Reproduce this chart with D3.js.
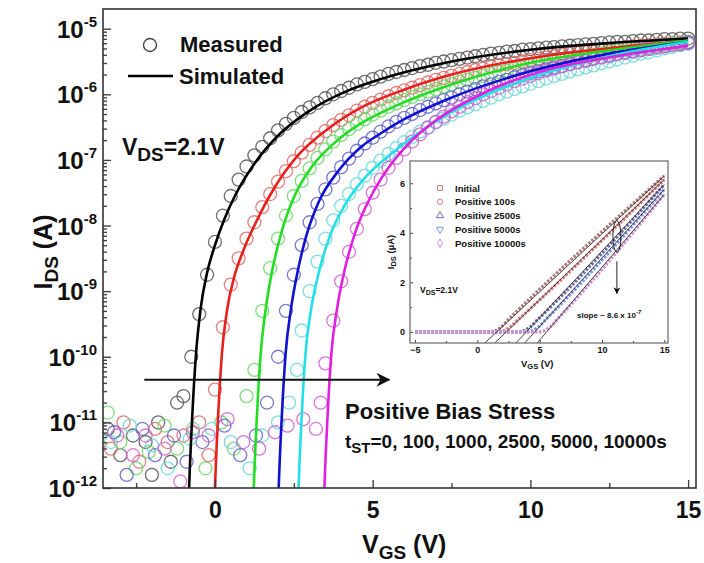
<!DOCTYPE html>
<html>
<head>
<meta charset="utf-8">
<script src="https://cdn.jsdelivr.net/npm/d3@7"></script>
<style>
body { margin: 0; background: #fff; }
svg text { font-family: "Liberation Sans", Arial, sans-serif; font-weight: bold; fill: #111; }
</style>
</head>
<body>
<div id="chart"></div>
<script>
// ---- Data ----
// stress times, one curve each
const stressTimes = ['0 s', '100 s', '1000 s', '2500 s', '5000 s', '10000 s'];
const lineColors = ['#000000', '#e8201c', '#22dd22', '#1010d0', '#22e0e8', '#e020e0'];
const circleColors = ['#555555', '#e06a6a', '#6ad86a', '#6060c8', '#6ad8d8', '#d060d0'];

// simulated curves: [VGS (V), log10 IDS (A)]
const simInitial = [[-0.82, -12], [-0.72, -10.9], [-0.6, -9.95], [-0.45, -9.25], [-0.25, -8.72], [0, -8.3], [0.3, -7.9],
  [0.63, -7.55], [1.26, -7.05], [2.02, -6.62], [2.97, -6.26], [4.23, -5.94], [5.17, -5.78], [7.5, -5.5], [10, -5.32], [12.5, -5.22], [15, -5.15]];
const sim100 = [[0, -12], [0.1, -10.9], [0.22, -9.95], [0.38, -9.3], [0.6, -8.8], [0.9, -8.38], [1.3, -7.95], [1.89, -7.42],
  [2.65, -6.92], [3.6, -6.52], [4.64, -6.2], [6, -5.93], [7.5, -5.7], [10, -5.45], [12.5, -5.3], [15, -5.19]];
const sim1000 = [[1.23, -12], [1.33, -10.9], [1.45, -9.95], [1.6, -9.3], [1.8, -8.72], [2.11, -8.1], [2.52, -7.55], [3.06, -7.11],
  [3.79, -6.74], [4.64, -6.44], [5.27, -6.28], [6, -6.12], [7.5, -5.85], [10, -5.52], [12.5, -5.33], [15, -5.18]];
const sim2500 = [[2.02, -12], [2.12, -10.9], [2.24, -9.95], [2.4, -9.3], [2.6, -8.75], [2.87, -8.2], [3.28, -7.65], [3.91, -7.17],
  [4.64, -6.8], [5.27, -6.59], [6, -6.38], [7.5, -6.05], [10, -5.65], [12.5, -5.38], [15, -5.2]];
const sim5000 = [[2.65, -12], [2.75, -10.9], [2.87, -9.95], [3.04, -9.3], [3.3, -8.7], [3.65, -8.15], [4.1, -7.7], [4.7, -7.3],
  [5.4, -6.98], [6, -6.75], [7.5, -6.27], [10, -5.75], [12.5, -5.42], [15, -5.2]];
const sim10000 = [[3.47, -12], [3.57, -10.9], [3.69, -9.95], [3.86, -9.3], [4.1, -8.7], [4.45, -8.1], [4.95, -7.55], [5.5, -7.12],
  [6.2, -6.72], [6.94, -6.42], [8.52, -5.98], [10.6, -5.62], [12.7, -5.42], [15, -5.26]];

// measured sweeps: start VGS, 0.25 V step, log10 IDS
const sweepStep = 0.25;
const measStart = [-1.0, 0, 1.25, 2.0, 2.75, 3.5];
const measInitial = [-10.6, -10.0, -9.35, -8.75, -8.25, -7.85, -7.55, -7.3, -7.1, -6.93,
  -6.8, -6.67, -6.55, -6.45, -6.36, -6.27, -6.2, -6.13, -6.06, -6.0,
  -5.95, -5.9, -5.85, -5.81, -5.77, -5.73, -5.69, -5.66, -5.63, -5.6,
  -5.57, -5.55, -5.52, -5.5, -5.48, -5.46, -5.44, -5.42, -5.4, -5.38,
  -5.37, -5.35, -5.34, -5.32, -5.31, -5.3, -5.29, -5.28, -5.27, -5.26,
  -5.25, -5.24, -5.23, -5.22, -5.21, -5.2, -5.2, -5.19, -5.18, -5.18,
  -5.17, -5.16, -5.16, -5.15, -5.15];
const meas100 = [-10.5, -9.55, -8.9, -8.5, -8.2, -7.95, -7.72, -7.52, -7.33, -7.17,
  -7.02, -6.89, -6.77, -6.66, -6.56, -6.47, -6.39, -6.32, -6.25, -6.19,
  -6.13, -6.08, -6.03, -5.98, -5.94, -5.9, -5.86, -5.82, -5.78, -5.75,
  -5.72, -5.69, -5.66, -5.63, -5.61, -5.58, -5.56, -5.54, -5.52, -5.5,
  -5.48, -5.46, -5.44, -5.42, -5.4, -5.38, -5.37, -5.35, -5.34, -5.32,
  -5.31, -5.3, -5.28, -5.27, -5.26, -5.25, -5.24, -5.23, -5.22, -5.21, -5.2];
const meas1000 = [-10.2, -9.3, -8.65, -8.2, -7.85, -7.55, -7.32, -7.13, -6.97, -6.84,
  -6.72, -6.62, -6.53, -6.45, -6.38, -6.31, -6.25, -6.19, -6.14, -6.09,
  -6.04, -6.0, -5.96, -5.92, -5.88, -5.85, -5.81, -5.78, -5.75, -5.72,
  -5.69, -5.66, -5.64, -5.61, -5.59, -5.56, -5.54, -5.52, -5.5, -5.48,
  -5.46, -5.44, -5.42, -5.4, -5.38, -5.36, -5.34, -5.33, -5.31, -5.29,
  -5.28, -5.26, -5.25, -5.23, -5.22, -5.2];
const meas2500 = [-10.0, -9.3, -8.75, -8.3, -7.95, -7.67, -7.45, -7.27, -7.11, -6.98,
  -6.86, -6.75, -6.66, -6.57, -6.49, -6.42, -6.36, -6.3, -6.24, -6.19,
  -6.14, -6.09, -6.05, -6.0, -5.96, -5.92, -5.88, -5.85, -5.81, -5.78,
  -5.74, -5.71, -5.68, -5.65, -5.62, -5.59, -5.57, -5.54, -5.51, -5.49,
  -5.46, -5.44, -5.42, -5.39, -5.37, -5.35, -5.33, -5.31, -5.29, -5.27,
  -5.25, -5.23, -5.21];
const meas5000 = [-9.6, -9.0, -8.55, -8.2, -7.92, -7.7, -7.52, -7.37, -7.24, -7.12,
  -7.01, -6.91, -6.82, -6.73, -6.65, -6.57, -6.5, -6.43, -6.37, -6.31,
  -6.25, -6.2, -6.15, -6.1, -6.05, -6.0, -5.96, -5.92, -5.88, -5.84,
  -5.8, -5.76, -5.72, -5.69, -5.65, -5.62, -5.59, -5.56, -5.53, -5.5,
  -5.47, -5.44, -5.41, -5.38, -5.36, -5.33, -5.3, -5.28, -5.25, -5.23];
const meas10000 = [-10.1, -9.45, -8.85, -8.4, -8.05, -7.75, -7.5, -7.3, -7.12, -6.97,
  -6.84, -6.72, -6.61, -6.51, -6.42, -6.34, -6.26, -6.19, -6.12, -6.06,
  -6.0, -5.95, -5.9, -5.85, -5.8, -5.76, -5.72, -5.68, -5.64, -5.61,
  -5.57, -5.54, -5.51, -5.48, -5.45, -5.43, -5.4, -5.38, -5.36, -5.34,
  -5.32, -5.3, -5.28, -5.27, -5.25, -5.24, -5.22];

// sub-threshold noise floor: [VGS, log10 IDS, curve index]
const noisePoints = [
  [-3.4, -11.1, 0], [-3.0, -11.5, 0], [-2.6, -11.2, 0], [-2.2, -11.3, 0], [-1.8, -11.0, 0], [-1.4, -11.6, 0], [-1.2, -10.7, 0], [-2.0, -11.8, 0],
  [-3.3, -11.4, 1], [-2.9, -11.0, 1], [-2.4, -11.6, 1], [-1.9, -11.1, 1], [-1.5, -11.3, 1], [-1.0, -11.2, 1], [-0.5, -11.0, 1], [-0.2, -11.5, 1],
  [-3.4, -10.85, 2], [-3.0, -11.3, 2], [-2.5, -11.7, 2], [-2.1, -11.45, 2], [-1.6, -11.05, 2], [-1.2, -11.4, 2], [-0.7, -11.1, 2], [-0.3, -11.7, 2],
  [0.2, -11.0, 2], [0.6, -11.4, 2], [1.0, -10.6, 2],
  [-3.2, -11.15, 3], [-2.8, -11.8, 3], [-2.3, -11.1, 3], [-1.9, -11.5, 3], [-1.3, -11.2, 3], [-0.9, -11.6, 3], [-0.4, -11.3, 3], [0.3, -11.05, 3],
  [0.8, -11.5, 3], [1.3, -11.2, 3], [1.65, -10.7, 3],
  [-3.3, -11.3, 4], [-2.7, -11.05, 4], [-2.0, -11.35, 4], [-1.5, -11.7, 4], [-0.8, -11.25, 4], [-0.1, -11.1, 4], [0.5, -11.3, 4], [1.1, -11.7, 4],
  [1.5, -11.2, 4], [2.0, -11.0, 4], [2.35, -10.7, 4], [2.6, -10.2, 4],
  [-3.1, -11.2, 5], [-2.6, -11.5, 5], [-2.2, -11.2, 5], [-1.6, -11.4, 5], [-1.1, -11.9, 5], [-0.7, -11.15, 5], [-0.2, -11.2, 5], [0.4, -10.95, 5],
  [0.9, -11.3, 5], [1.4, -11.4, 5], [1.9, -11.15, 5], [2.3, -11.05, 5], [2.8, -10.95, 5], [3.2, -11.1, 5], [3.35, -10.7, 5]
];

const simCurves = [simInitial, sim100, sim1000, sim2500, sim5000, sim10000];
const measCurves = [measInitial, meas100, meas1000, meas2500, meas5000, meas10000];

// inset: linear IDS (uA) vs VGS
const insetNames = ['Initial', 'Positive 100s', 'Positive 2500s', 'Positive 5000s', 'Positive 10000s'];
const insetColors = ['#b07a7a', '#e07a7a', '#6a6aa8', '#7a96e0', '#d090d0'];
const insetSymbols = [d3.symbolSquare, d3.symbolCircle, d3.symbolTriangle, d3.symbolTriangle, d3.symbolDiamond];
const insetMeasured = [
  [[-5, 0], [1.0, 0], [1.8, 0.15], [2.5, 0.5], [15, 6.3]],
  [[-5, 0], [1.8, 0], [2.6, 0.18], [3.3, 0.5], [15, 6.15]],
  [[-5, 0], [3.4, 0], [4.2, 0.18], [4.9, 0.52], [15, 5.95]],
  [[-5, 0], [4.0, 0], [4.9, 0.2], [5.6, 0.55], [15, 5.75]],
  [[-5, 0], [5.0, 0], [5.8, 0.18], [6.5, 0.55], [15, 5.55]]
];
const insetFits = [
  [[0.6, -0.45], [15, 6.3]],
  [[1.4, -0.45], [15, 6.15]],
  [[3.1, -0.45], [15, 5.95]],
  [[3.8, -0.45], [15, 5.75]],
  [[4.8, -0.45], [15, 5.55]]
];

// ---- Layout ----
const W = 704, H = 563;
const plot = { left: 103, top: 9, right: 696, bottom: 488 };

const svg = d3.select('#chart').append('svg')
  .attr('width', W).attr('height', H);

const x = d3.scaleLinear().domain([-3.55, 15.25]).range([plot.left, plot.right]);
const y = d3.scaleLog().domain([1e-12, Math.pow(10, -4.7)]).range([plot.bottom, plot.top]);

svg.append('clipPath').attr('id', 'clip')
  .append('rect')
  .attr('x', plot.left).attr('y', plot.top)
  .attr('width', plot.right - plot.left).attr('height', plot.bottom - plot.top);

const g = svg.append('g').attr('clip-path', 'url(#clip)');

// measured circles
const circles = [];
measCurves.forEach((vals, i) => {
  vals.forEach((v, k) => circles.push({ v: measStart[i] + k * sweepStep, logI: v, s: i }));
});
noisePoints.forEach(p => circles.push({ v: p[0], logI: p[1], s: p[2] }));

g.selectAll('circle.meas')
  .data(circles)
  .join('circle')
  .attr('class', 'meas')
  .attr('cx', d => x(d.v))
  .attr('cy', d => y(Math.pow(10, d.logI)))
  .attr('r', 6.5)
  .attr('fill', 'none')
  .attr('stroke', d => circleColors[d.s])
  .attr('stroke-width', 1.3)
  .attr('opacity', 0.85);

// simulated lines
const line = d3.line()
  .x(d => x(d[0]))
  .y(d => y(Math.pow(10, d[1])))
  .curve(d3.curveMonotoneX);

g.selectAll('path.sim')
  .data(simCurves)
  .join('path')
  .attr('class', 'sim')
  .attr('d', d => line([[d[0][0] - 0.02, -12.3], ...d]))
  .attr('fill', 'none')
  .attr('stroke', (d, i) => lineColors[i])
  .attr('stroke-width', 2.6);

// ---- Axes ----
const xAxisMajor = d3.axisBottom(x).tickValues([0, 5, 10, 15]).tickSize(-8).tickPadding(14);
const xAxisMinor = d3.axisBottom(x).tickValues([-2.5, 2.5, 7.5, 12.5]).tickSize(-5).tickFormat('');

const gx = svg.append('g').attr('transform', `translate(0,${plot.bottom})`).call(xAxisMajor);
svg.append('g').attr('transform', `translate(0,${plot.bottom})`).call(xAxisMinor);
gx.selectAll('text').style('font-size', '23px').attr('fill', '#111');

const decades = [-12, -11, -10, -9, -8, -7, -6, -5];
const yAxisMajor = d3.axisLeft(y).tickValues(decades.map(d => Math.pow(10, d))).tickSize(-8).tickFormat('');
const yMinorVals = y.ticks().filter(t => Math.abs(Math.log10(t) - Math.round(Math.log10(t))) > 1e-6);
const yAxisMinor = d3.axisLeft(y).tickValues(yMinorVals).tickSize(-4).tickFormat('');
svg.append('g').attr('transform', `translate(${plot.left},0)`).call(yAxisMajor);
svg.append('g').attr('transform', `translate(${plot.left},0)`).call(yAxisMinor);

svg.selectAll('.domain').remove();
svg.selectAll('.tick line').attr('stroke', '#222').attr('stroke-width', 1.4);

// y tick labels 10^n
const yLab = svg.append('g').selectAll('text')
  .data(decades)
  .join('text')
  .attr('x', 97)
  .attr('y', d => y(Math.pow(10, d)) + 9)
  .attr('text-anchor', 'end');
yLab.append('tspan').style('font-size', '24px').text('10');
yLab.append('tspan').style('font-size', '15px').attr('dy', -11).text(d => d);

// frame
svg.append('rect')
  .attr('x', plot.left).attr('y', plot.top)
  .attr('width', plot.right - plot.left).attr('height', plot.bottom - plot.top)
  .attr('fill', 'none').attr('stroke', '#333').attr('stroke-width', 1.6);

// axis titles
const xt = svg.append('text').attr('x', 362).attr('y', 553);
xt.append('tspan').style('font-size', '25px').text('V');
xt.append('tspan').style('font-size', '19px').attr('dy', 6).text('GS');
xt.append('tspan').style('font-size', '25px').attr('dy', -6).text(' (V)');

const yt = svg.append('text').attr('transform', 'translate(52,252) rotate(-90)').attr('text-anchor', 'middle');
yt.append('tspan').style('font-size', '25px').text('I');
yt.append('tspan').style('font-size', '19px').attr('dy', 6).text('DS');
yt.append('tspan').style('font-size', '25px').attr('dy', -6).text(' (A)');

// legend
svg.append('circle').attr('cx', 150).attr('cy', 45).attr('r', 6.5)
  .attr('fill', 'none').attr('stroke', '#444').attr('stroke-width', 1.4);
svg.append('text').attr('x', 180).attr('y', 52).style('font-size', '22px').text('Measured');
svg.append('line').attr('x1', 128).attr('x2', 173).attr('y1', 76).attr('y2', 76)
  .attr('stroke', '#000').attr('stroke-width', 2.6);
svg.append('text').attr('x', 179).attr('y', 84).style('font-size', '22px').text('Simulated');

// VDS label
const vds = svg.append('text').attr('x', 122).attr('y', 155);
vds.append('tspan').style('font-size', '23px').text('V');
vds.append('tspan').style('font-size', '19px').attr('dy', 6).text('DS');
vds.append('tspan').style('font-size', '23px').attr('dy', -6).text('=2.1V');

// stress arrow
svg.append('defs').append('marker')
  .attr('id', 'arrowHead').attr('viewBox', '0 0 10 10').attr('refX', 9).attr('refY', 5)
  .attr('markerWidth', 7).attr('markerHeight', 7).attr('orient', 'auto')
  .append('path').attr('d', 'M0,0 L10,5 L0,10 L3,5 Z').attr('fill', '#111');
svg.append('line')
  .attr('x1', x(-2.24)).attr('x2', x(5.52))
  .attr('y1', y(Math.pow(10, -10.35))).attr('y2', y(Math.pow(10, -10.35)))
  .attr('stroke', '#111').attr('stroke-width', 2)
  .attr('marker-end', 'url(#arrowHead)');

svg.append('text').attr('x', 345).attr('y', 419).style('font-size', '22px').text('Positive Bias Stress');
const tst = svg.append('text').attr('x', 345).attr('y', 448);
tst.append('tspan').style('font-size', '19px').text('t');
tst.append('tspan').style('font-size', '15px').attr('dy', 5).text('ST');
tst.append('tspan').style('font-size', '19px').attr('dy', -5).text('=0, 100, 1000, 2500, 5000, 10000s');

// ---- Inset ----
const inset = { left: 410, top: 161, right: 668, bottom: 343 };
const ix = d3.scaleLinear().domain([-5.4, 15.3]).range([inset.left, inset.right]);
const iy = d3.scaleLinear().domain([-0.45, 6.9]).range([inset.bottom, inset.top]);

svg.append('rect')
  .attr('x', inset.left).attr('y', inset.top)
  .attr('width', inset.right - inset.left).attr('height', inset.bottom - inset.top)
  .attr('fill', '#fff');

svg.append('clipPath').attr('id', 'iclip')
  .append('rect')
  .attr('x', inset.left).attr('y', inset.top)
  .attr('width', inset.right - inset.left).attr('height', inset.bottom - inset.top);
const ig = svg.append('g').attr('clip-path', 'url(#iclip)');

const iline = d3.line().x(d => ix(d[0])).y(d => iy(d[1])).curve(d3.curveMonotoneX);

ig.selectAll('path.imeas')
  .data(insetMeasured)
  .join('path')
  .attr('d', iline)
  .attr('fill', 'none')
  .attr('stroke', (d, i) => insetColors[i])
  .attr('stroke-width', 3.2)
  .attr('stroke-dasharray', '2.5,1.5');

ig.selectAll('path.ifit')
  .data(insetFits)
  .join('path')
  .attr('d', d3.line().x(d => ix(d[0])).y(d => iy(d[1])))
  .attr('fill', 'none')
  .attr('stroke', '#333')
  .attr('stroke-width', 0.9);

const ixAxis = d3.axisBottom(ix).tickValues([-5, 0, 5, 10, 15]).tickSize(-3).tickPadding(4);
const iyAxis = d3.axisLeft(iy).tickValues([0, 2, 4, 6]).tickSize(-3).tickPadding(5);
const igx = svg.append('g').attr('transform', `translate(0,${inset.bottom})`).call(ixAxis);
const igy = svg.append('g').attr('transform', `translate(${inset.left},0)`).call(iyAxis);
svg.append('g').attr('transform', `translate(0,${inset.bottom})`)
  .call(d3.axisBottom(ix).tickValues([-2.5, 2.5, 7.5, 12.5]).tickSize(-2).tickFormat(''));
svg.append('g').attr('transform', `translate(${inset.left},0)`)
  .call(d3.axisLeft(iy).tickValues([1, 3, 5]).tickSize(-2).tickFormat(''));
[igx, igy].forEach(a => a.selectAll('text').style('font-size', '9px').attr('fill', '#444'));
svg.selectAll('.domain').remove();
svg.selectAll('.tick line').attr('stroke', '#444');

svg.append('rect')
  .attr('x', inset.left).attr('y', inset.top)
  .attr('width', inset.right - inset.left).attr('height', inset.bottom - inset.top)
  .attr('fill', 'none').attr('stroke', '#666').attr('stroke-width', 1.2);

// inset legend
const ileg = svg.append('g').selectAll('g')
  .data(insetNames)
  .join('g')
  .attr('transform', (d, i) => `translate(440,${188 + i * 13.8})`);
ileg.append('path')
  .attr('d', (d, i) => d3.symbol().type(insetSymbols[i]).size(22)())
  .attr('transform', (d, i) => i === 3 ? 'rotate(180)' : null)
  .attr('fill', 'none')
  .attr('stroke', (d, i) => insetColors[i])
  .attr('stroke-width', 1);
ileg.append('text').attr('x', 15).attr('y', 3.5)
  .style('font-size', '9.5px').attr('fill', '#444').text(d => d);

const ivds = svg.append('text').attr('x', 420).attr('y', 293).attr('fill', '#444');
ivds.append('tspan').style('font-size', '8.5px').text('V');
ivds.append('tspan').style('font-size', '7px').attr('dy', 2).text('DS');
ivds.append('tspan').style('font-size', '8.5px').attr('dy', -2).text('=2.1V');

const ixt = svg.append('text').attr('x', 521).attr('y', 367).attr('fill', '#444');
ixt.append('tspan').style('font-size', '9.5px').text('V');
ixt.append('tspan').style('font-size', '7.5px').attr('dy', 2).text('GS');
ixt.append('tspan').style('font-size', '9.5px').attr('dy', -2).text(' (V)');

const iyt = svg.append('text').attr('transform', 'translate(394,252) rotate(-90)')
  .attr('text-anchor', 'middle').attr('fill', '#444');
iyt.append('tspan').style('font-size', '9.5px').text('I');
iyt.append('tspan').style('font-size', '7.5px').attr('dy', 2).text('DS');
iyt.append('tspan').style('font-size', '9.5px').attr('dy', -2).text(' (\u00b5A)');

const slope = svg.append('text').attr('x', 577).attr('y', 318).attr('fill', '#444');
slope.append('tspan').style('font-size', '8px').text('slope ~ 8.6 x 10');
slope.append('tspan').style('font-size', '6px').attr('dy', -4).text('-7');

svg.append('ellipse')
  .attr('cx', ix(11.2)).attr('cy', iy(3.85)).attr('rx', 4).attr('ry', 16)
  .attr('fill', 'none').attr('stroke', '#222').attr('stroke-width', 1);
svg.append('line')
  .attr('x1', ix(11.2)).attr('x2', ix(11.2))
  .attr('y1', iy(2.85)).attr('y2', iy(1.55))
  .attr('stroke', '#222').attr('stroke-width', 1)
  .attr('marker-end', 'url(#arrowHead)');
</script>
</body>
</html>
